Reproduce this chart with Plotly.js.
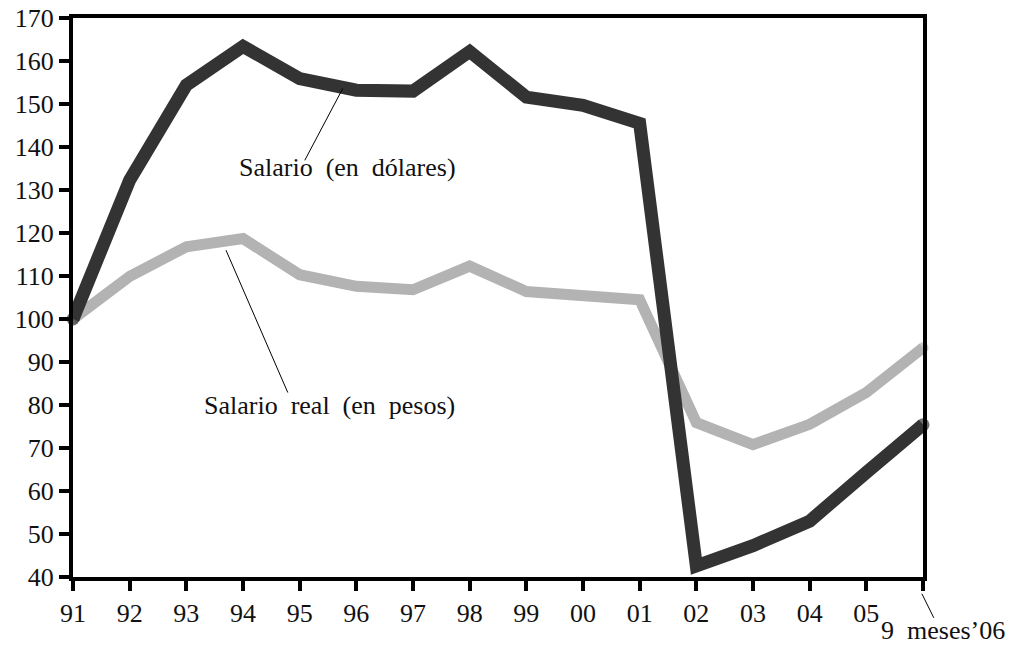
<!DOCTYPE html>
<html>
<head>
<meta charset="utf-8">
<script src="https://cdn.plot.ly/plotly-3.0.1.min.js"></script>
<style>
  html, body { margin: 0; padding: 0; background: #ffffff; }
  #chart { width: 1021px; height: 647px; }
</style>
</head>
<body>
<div id="chart"></div>
<script>
// Period labels (x axis)
const periods = ['91','92','93','94','95','96','97','98','99','00','01','02','03','04','05','9 meses\u201906'];
const tickLabels = ['91','92','93','94','95','96','97','98','99','00','01','02','03','04','05',''];

// Index 1991 = 100
const salarioDolares = [100, 132.3, 154.4, 163.4, 155.9, 153.2, 153.0, 162.2, 151.6, 149.7, 145.5, 42.6, 47.3, 53.0, 64.3, 75.4];
const salarioRealPesos = [100, 109.9, 116.8, 118.7, 110.3, 107.6, 106.8, 112.3, 106.4, 105.6, 104.5, 75.9, 70.8, 75.5, 82.9, 93.3];

const xIdx = periods.map((_, i) => i);
const endSizes = (n, s) => xIdx.map(i => (i === 0 || i === n - 1) ? s : 0);

const serif = '"Liberation Serif", "DejaVu Serif", serif';

const traces = [
  {
    x: xIdx, y: salarioRealPesos, type: 'scatter', mode: 'lines+markers',
    name: 'Salario real (en pesos)',
    line: { color: '#b3b3b3', width: 11 },
    marker: { color: '#b3b3b3', size: endSizes(periods.length, 11), line: { width: 0 } },
    cliponaxis: false, hoverinfo: 'x+y'
  },
  {
    x: xIdx, y: salarioDolares, type: 'scatter', mode: 'lines+markers',
    name: 'Salario (en dólares)',
    line: { color: '#333333', width: 13 },
    marker: { color: '#333333', size: endSizes(periods.length, 13), line: { width: 0 } },
    cliponaxis: false, hoverinfo: 'x+y'
  }
];

const tf = { family: serif, size: 26, color: '#111111' };

const layout = {
  width: 1021, height: 647,
  margin: { l: 73, r: 98, t: 18, b: 70 },
  paper_bgcolor: '#ffffff', plot_bgcolor: '#ffffff',
  showlegend: false,
  font: tf,
  xaxis: {
    range: [0, 15], tickmode: 'array', tickvals: xIdx, ticktext: tickLabels,
    showgrid: false, zeroline: false,
    showline: true, linecolor: '#000000', linewidth: 4, mirror: true,
    ticks: 'outside', ticklen: 10, tickwidth: 4, tickcolor: '#000000',
    tickfont: tf
  },
  yaxis: {
    range: [40, 170], dtick: 10, tick0: 40,
    showgrid: false, zeroline: false,
    showline: true, linecolor: '#000000', linewidth: 4, mirror: true,
    ticks: 'outside', ticklen: 10, tickwidth: 4, tickcolor: '#000000',
    tickfont: tf
  },
  annotations: [
    { xref: 'x', yref: 'y', x: 4.85, y: 135.3, text: 'Salario&nbsp;&nbsp;(en&nbsp;&nbsp;dólares)',
      showarrow: false, font: tf, xanchor: 'center', yanchor: 'middle' },
    { xref: 'x', yref: 'y', x: 4.53, y: 80.0, text: 'Salario&nbsp;&nbsp;real&nbsp;&nbsp;(en&nbsp;&nbsp;pesos)',
      showarrow: false, font: tf, xanchor: 'center', yanchor: 'middle' },
    { xref: 'paper', yref: 'paper', x: 1.024, y: -0.1235, text: '9&nbsp;&nbsp;meses\u201906',
      showarrow: false, font: tf, xanchor: 'center', yanchor: 'bottom', borderpad: 0 }
  ],
  shapes: [
    { type: 'line', xref: 'x', yref: 'y', x0: 4.09, y0: 136.9, x1: 4.76, y1: 153.6,
      line: { color: '#000000', width: 1 } },
    { type: 'line', xref: 'x', yref: 'y', x0: 2.70, y0: 116.0, x1: 3.79, y1: 82.9,
      line: { color: '#000000', width: 1 } },
    { type: 'line', xref: 'paper', yref: 'paper', x0: 0.9987, y0: -0.030, x1: 1.0127, y1: -0.073,
      line: { color: '#000000', width: 1 } }
  ]
};

Plotly.newPlot('chart', traces, layout, { displayModeBar: false, staticPlot: true });
</script>
</body>
</html>
